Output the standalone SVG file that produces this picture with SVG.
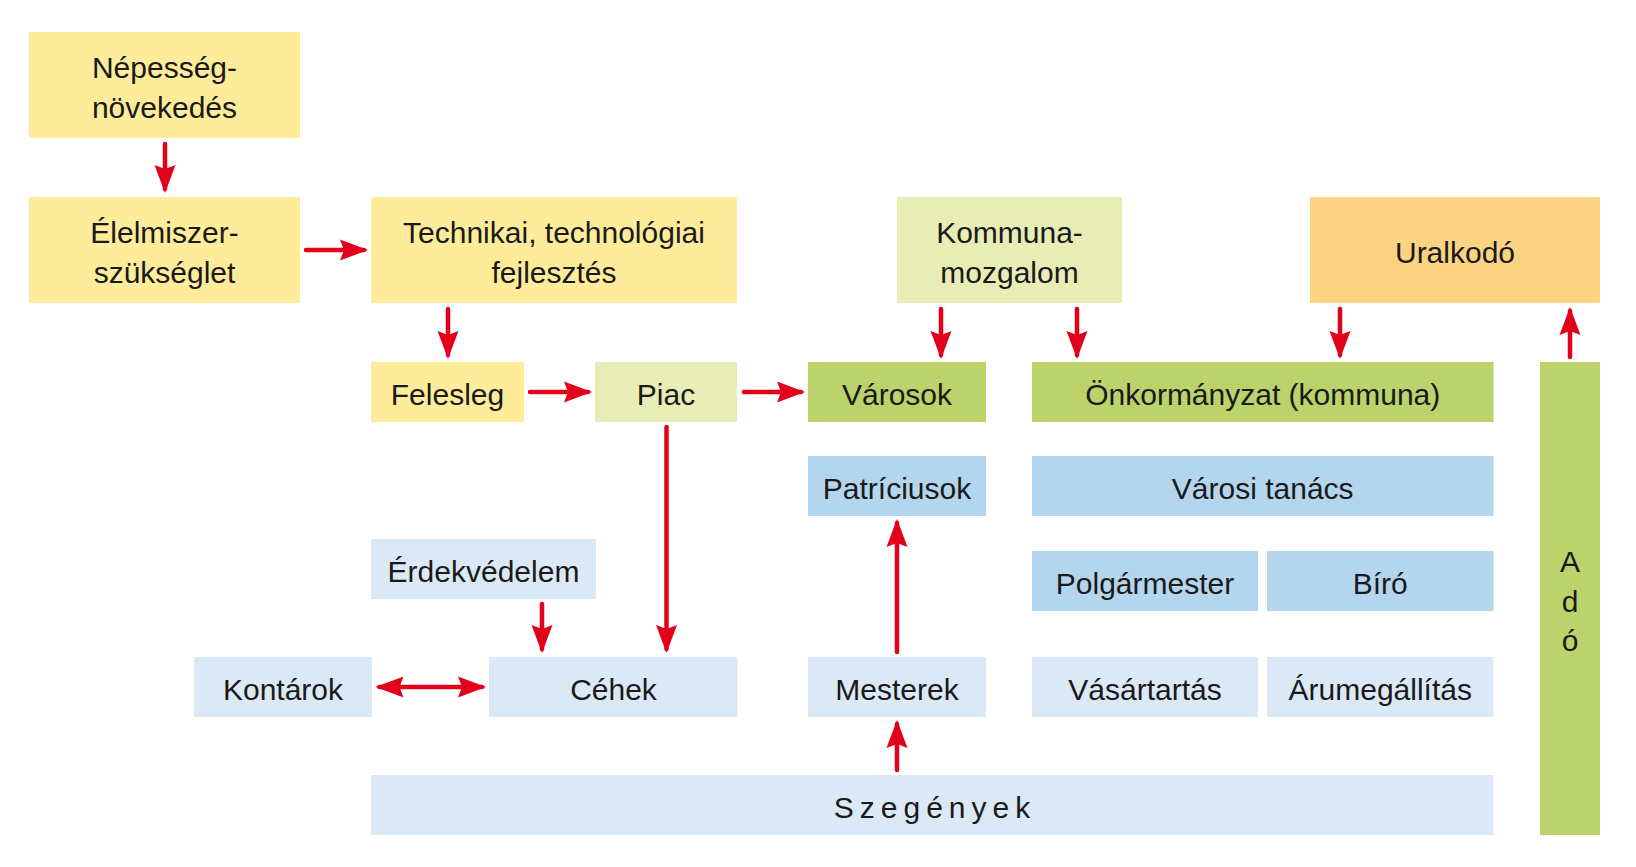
<svg xmlns="http://www.w3.org/2000/svg" width="1636" height="867" viewBox="0 0 1636 867">
<style>
text{font-family:"Liberation Sans",Arial,sans-serif;font-size:30px;fill:#1a1a1a;text-anchor:middle}
.y{fill:#FEEC9B}.lg{fill:#E7EDB4}.g{fill:#BCD36B}.o{fill:#FBD382}.b{fill:#B4D5EE}.lb{fill:#DBE9F6}
.c line{stroke:#E3001B;stroke-width:4.5;stroke-linecap:round;marker-end:url(#ah)}
</style>
<defs>
<marker id="ah" viewBox="0 0 28 22" markerWidth="28" markerHeight="22" refX="24" refY="11" markerUnits="userSpaceOnUse" orient="auto-start-reverse">
<path d="M28,11 L0,0.5 L4,11 L0,21.5 Z" fill="#E3001B"/>
</marker>
</defs>
<rect width="1636" height="867" fill="#fff"/>
<g id="nepesseg"><rect class="y" x="29" y="32" width="271" height="106"/><text x="164.5" y="78">Népesség-</text><text x="164.5" y="118">növekedés</text></g>
<g id="elelmiszer"><rect class="y" x="29" y="197" width="271" height="106"/><text x="164.5" y="243">Élelmiszer-</text><text x="164.5" y="283">szükséglet</text></g>
<g id="technikai"><rect class="y" x="371" y="197" width="366" height="106"/><text x="554" y="243">Technikai, technológiai</text><text x="554" y="283">fejlesztés</text></g>
<g id="kommuna"><rect class="lg" x="897" y="197" width="225" height="106"/><text x="1009.5" y="243">Kommuna-</text><text x="1009.5" y="283">mozgalom</text></g>
<g id="uralkodo"><rect class="o" x="1310" y="197" width="290" height="106"/><text x="1455" y="263">Uralkodó</text></g>
<g id="felesleg"><rect class="y" x="371" y="362" width="153" height="60"/><text x="447.5" y="405">Felesleg</text></g>
<g id="piac"><rect class="lg" x="595" y="362" width="142" height="60"/><text x="666" y="405">Piac</text></g>
<g id="varosok"><rect class="g" x="808" y="362" width="178" height="60"/><text x="897" y="405">Városok</text></g>
<g id="onkormanyzat"><rect class="g" x="1032" y="362" width="461.5" height="60"/><text x="1262.75" y="405">Önkormányzat (kommuna)</text></g>
<g id="ado"><rect class="g" x="1540" y="362" width="60" height="473"/><text x="1570" y="572">A</text><text x="1570" y="612">d</text><text x="1570" y="651">ó</text></g>
<g id="patriciusok"><rect class="b" x="808" y="456" width="178" height="60"/><text x="897" y="499">Patríciusok</text></g>
<g id="varosi-tanacs"><rect class="b" x="1032" y="456" width="461.5" height="60"/><text x="1262.75" y="499">Városi tanács</text></g>
<g id="erdekvedelem"><rect class="lb" x="371" y="539" width="225" height="60"/><text x="483.5" y="582">Érdekvédelem</text></g>
<g id="polgarmester"><rect class="b" x="1032" y="551" width="226" height="60"/><text x="1145" y="594">Polgármester</text></g>
<g id="biro"><rect class="b" x="1267" y="551" width="226.5" height="60"/><text x="1380.25" y="594">Bíró</text></g>
<g id="kontarok"><rect class="lb" x="194" y="657" width="178" height="60"/><text x="283" y="700">Kontárok</text></g>
<g id="cehek"><rect class="lb" x="489" y="657" width="248.5" height="60"/><text x="613.5" y="700">Céhek</text></g>
<g id="mesterek"><rect class="lb" x="808" y="657" width="178" height="60"/><text x="897" y="700">Mesterek</text></g>
<g id="vasartartas"><rect class="lb" x="1032" y="657" width="226" height="60"/><text x="1145" y="700">Vásártartás</text></g>
<g id="arumegallitas"><rect class="lb" x="1267" y="657" width="226.5" height="60"/><text x="1380.25" y="700">Árumegállítás</text></g>
<g id="szegenyek"><rect class="lb" x="371" y="775" width="1122.5" height="60"/><text x="935" y="818" style="letter-spacing:6px">Szegények</text></g>
<g id="connectors" class="c">
<line x1="165" y1="144" x2="165" y2="189"/>
<line x1="306" y1="250" x2="364" y2="250"/>
<line x1="448" y1="309" x2="448" y2="355"/>
<line x1="530" y1="392" x2="588" y2="392"/>
<line x1="744" y1="392" x2="801" y2="392"/>
<line x1="666.5" y1="427" x2="666.5" y2="649"/>
<line x1="542" y1="604" x2="542" y2="649"/>
<line x1="379.5" y1="687" x2="482" y2="687" style="marker-start:url(#ah)"/>
<line x1="941" y1="309" x2="941" y2="355"/>
<line x1="1077" y1="309" x2="1077" y2="355"/>
<line x1="1340" y1="309" x2="1340" y2="355"/>
<line x1="1570" y1="357" x2="1570" y2="311"/>
<line x1="897" y1="652" x2="897" y2="523"/>
<line x1="897" y1="770" x2="897" y2="724"/>
</g>
</svg>
